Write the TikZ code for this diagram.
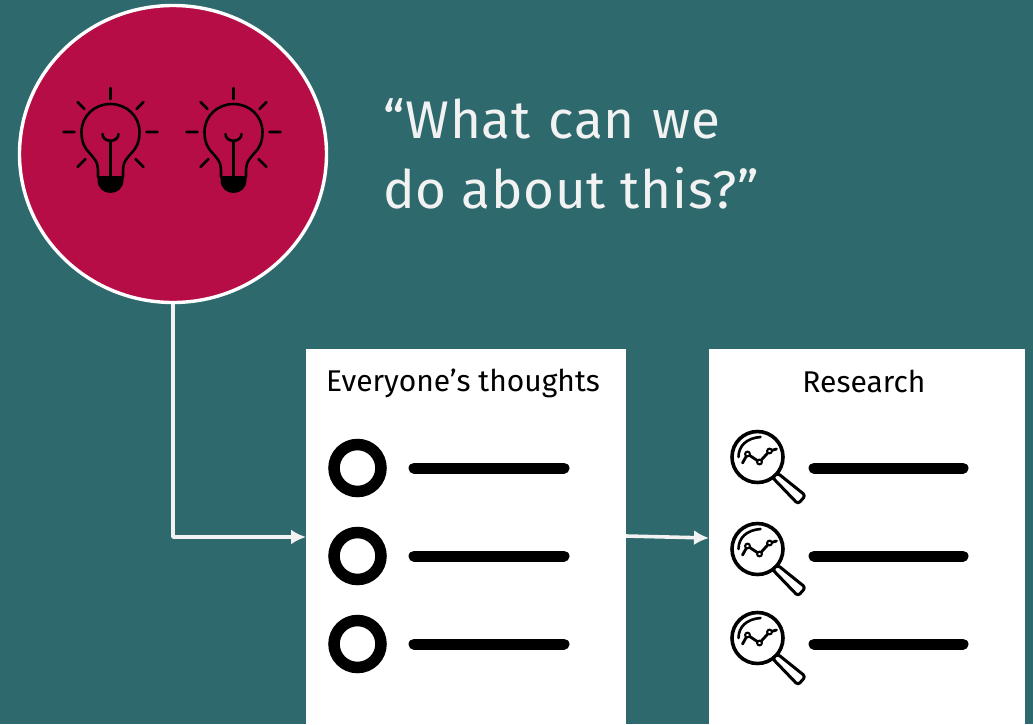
\documentclass[tikz,border=0pt]{standalone}
\usepackage{fontspec}
\setmainfont{Fira Sans}
\newfontfamily\quotefont[LetterSpace=1.5]{Fira Sans}
\usetikzlibrary{arrows.meta,shapes.geometric}
\definecolor{bgteal}{HTML}{2D696D}
\definecolor{crimson}{HTML}{B70D47}
\definecolor{arrowwhite}{HTML}{F2F2F2}
\tikzset{
  x=1pt,y=-1pt,
  panel/.style={fill=white,draw=none,inner sep=0pt,outer sep=0pt,minimum width=#1,minimum height=375pt},
  ringmark/.style={circle,draw=black,fill=white,line width=11.5pt,minimum size=47pt,inner sep=0pt},
  barline/.style={line width=11pt,line cap=round,black},
  flow/.style={arrowwhite,line width=3.6pt,-{Latex[length=15pt,width=15pt]}},
  paneltitle/.style={font=\fontsize{30}{32}\selectfont,text=black,inner sep=0pt,anchor=base},
  quotetext/.style={font=\quotefont\fontsize{53}{70}\selectfont,text=arrowwhite,inner sep=0pt,anchor=base west},
  pics/bulb/.style={code={
    \fill[black] (-13,44) -- (13,44) -- (13,48) .. controls (13,56) and (7,61) .. (0,61) .. controls (-7,61) and (-13,56) .. (-13,48) -- cycle;
    \draw[black,line width=2.6pt,line cap=round,line join=round]
      (-12.5,45) -- (-12.5,40) .. controls (-12.5,29) and (-16,27) .. (-21,21)
      .. controls (-26,16) and (-29,10) .. (-29,0)
      .. controls (-29,-16) and (-16,-28) .. (0,-28)
      .. controls (16,-28) and (29,-16) .. (29,0)
      .. controls (29,10) and (26,16) .. (21,21)
      .. controls (16,27) and (12.5,29) .. (12.5,40) -- (12.5,45);
    \draw[black,line width=2.6pt,line cap=round]
      (-8,2) .. controls (-8,11) and (8,11) .. (8,2);
    \draw[black,line width=2.6pt] (0,9) -- (0,45);
    \draw[black,line width=2.6pt,line cap=round]
      (0,-44) -- (0,-33) (-47,0) -- (-36,0) (36,0) -- (47,0)
      (-33,-30) -- (-26,-23) (33,-30) -- (26,-23)
      (-33,35) -- (-25,27) (33,35) -- (25,27);
  }},
  pics/lens/.style={code={
    \draw[black,line width=3.6pt,fill=white] (0,0) circle (25.5);
    \draw[black,line width=2.6pt,line cap=round] (-19,0) .. controls (-19,-11) and (-11,-19) .. (3,-20);
    \draw[black,line width=2.8pt,line cap=round,line join=round] (-15,6) -- (-10,-3) -- (2,5) -- (12,-6) -- (19,-8);
    \fill[white,draw=black,line width=2pt] (-10,-3) circle (2.4) (2,5) circle (2.4) (12,-6) circle (2.4);
    \draw[black,line width=3pt,fill=white,rounded corners=3pt,line join=round]
      (20,16) -- (48,38.5) -- (40.5,47) -- (15,20.5) -- cycle;
  }}
}
\begin{document}
\begin{tikzpicture}
\useasboundingbox[fill=bgteal] (0,0) rectangle (1033,724);
% panels
\node[panel=320pt,anchor=north west] (thoughts) at (306,349) {};
\node[panel=316pt,anchor=north west] (research) at (709,349) {};
\node[paneltitle] (thoughtstitle) at (463,391) {Everyone’s thoughts};
\node[paneltitle] (researchtitle) at (864,392) {Research};
% circle
\node[ellipse,fill=crimson,draw=white,line width=3.4pt,minimum width=307pt,minimum height=297pt,inner sep=0pt] (idea) at (173,154) {};
\pic (bulbone) at (110.5,132) {bulb};
\pic (bulbtwo) at (233.5,132) {bulb};
% quote
\node[quotetext] (quoteone) at (383,138) {“What\hspace{3pt} can\hspace{3pt} we};
\node[quotetext] (quotetwo) at (383,208) {do about this?”};
% connectors
\coordinate (elbow) at (173,537);
\coordinate (inone) at (306,537);
\coordinate (outone) at (626,536);
\coordinate (intwo) at (709,538);
\draw[flow,line join=round] (idea.south) -- (elbow) -- (inone);
\draw[flow] (outone) -- (intwo);
% list one
\node[ringmark] (ringa) at (357.5,468) {};
\node[ringmark] (ringb) at (357.5,556) {};
\node[ringmark] (ringc) at (357.5,644) {};
\draw[barline] (414,468) -- (564,468);
\draw[barline] (414,556) -- (564,556);
\draw[barline] (414,644) -- (564,644);
% list two
\pic (lensa) at (757.5,457) {lens};
\pic (lensb) at (757.5,549) {lens};
\pic (lensc) at (757.5,638) {lens};
\draw[barline] (814,468) -- (963,468);
\draw[barline] (814,556) -- (963,556);
\draw[barline] (814,644) -- (963,644);
\end{tikzpicture}
\end{document}
